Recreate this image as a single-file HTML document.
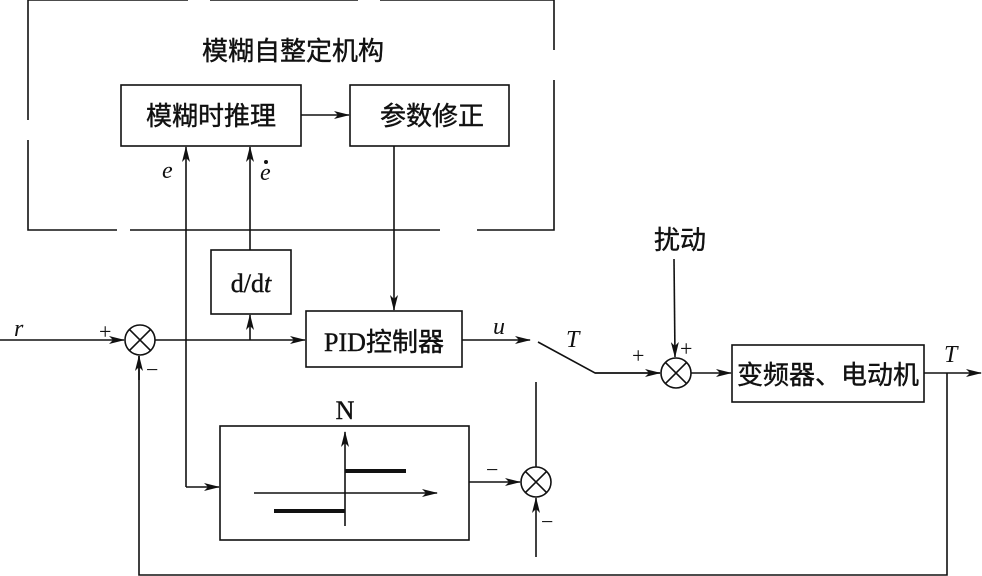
<!DOCTYPE html>
<html><head><meta charset="utf-8"><style>
html,body{margin:0;padding:0;background:#fff}
svg{display:block}
text{font-family:"Liberation Serif","Noto Sans CJK SC",serif;fill:#111}
</style></head><body>
<svg width="982" height="576" viewBox="0 0 982 576" xmlns="http://www.w3.org/2000/svg">
<defs>
<marker id="a" markerWidth="16" markerHeight="8" refX="15" refY="4" orient="auto" markerUnits="userSpaceOnUse">
<path d="M0,0 L16,4 L0,8 L4,4 Z" fill="#111"/></marker>
</defs>
<g stroke="#111" stroke-width="1.6" fill="none">
<path d="M28,0 V120 M28,140 V230 H117 M130,230 H440 M477,230 H554 V80 M554,50 V0"/>
<path d="M28,0 H188 M210,0 H358 M380,0 H554" />
<rect x="121" y="85" width="180" height="61"/>
<rect x="350" y="85" width="159" height="61"/>
<line x1="301" y1="115" x2="349" y2="115" marker-end="url(#a)"/>
<line x1="186" y1="487" x2="186" y2="147" marker-end="url(#a)"/>
<line x1="186" y1="487" x2="219" y2="487" marker-end="url(#a)"/>
<line x1="250" y1="250" x2="250" y2="147" marker-end="url(#a)"/>
<rect x="211" y="250" width="80" height="64"/>
<line x1="250" y1="340" x2="250" y2="315" marker-end="url(#a)"/>
<line x1="394" y1="146" x2="394" y2="310" marker-end="url(#a)"/>
<line x1="0" y1="340" x2="124" y2="340" marker-end="url(#a)"/>
<circle cx="140" cy="340" r="15"/>
<path d="M129.4,329.4 L150.6,350.6 M150.6,329.4 L129.4,350.6"/>
<line x1="155" y1="340" x2="305" y2="340" marker-end="url(#a)"/>
<rect x="306" y="311" width="156" height="56"/>
<line x1="462" y1="340" x2="530" y2="340" marker-end="url(#a)"/>
<path d="M538,342 L595,373 H660"/>
<line x1="595" y1="373" x2="660" y2="373" marker-end="url(#a)"/>
<line x1="674" y1="259" x2="675" y2="357" marker-end="url(#a)"/>
<circle cx="676" cy="373" r="15"/>
<path d="M665.4,362.4 L686.6,383.6 M686.6,362.4 L665.4,383.6"/>
<line x1="691" y1="373" x2="731" y2="373" marker-end="url(#a)"/>
<rect x="732" y="345" width="192" height="57"/>
<line x1="924" y1="373" x2="981" y2="373" marker-end="url(#a)"/>
<path d="M947,373 V575 H139 V356"/>
<line x1="139" y1="380" x2="139" y2="356" marker-end="url(#a)"/>
<rect x="220" y="426" width="249" height="114"/>
<line x1="345" y1="526" x2="345" y2="432" marker-end="url(#a)"/>
<line x1="254" y1="493" x2="437" y2="493" marker-end="url(#a)"/>
<line x1="469" y1="482" x2="520" y2="482" marker-end="url(#a)"/>
<circle cx="536" cy="482" r="15"/>
<path d="M525.4,471.4 L546.6,492.6 M546.6,471.4 L525.4,492.6"/>
<line x1="536" y1="382" x2="536" y2="467"/>
<line x1="536" y1="557" x2="536" y2="498" marker-end="url(#a)"/>
</g>
<g stroke="#111" stroke-width="4">
<line x1="345" y1="471" x2="406" y2="471"/>
<line x1="274" y1="511" x2="345" y2="511"/>
</g>
<g font-size="26" stroke="#111" stroke-width="0.4">
<text x="293" y="60" text-anchor="middle">模糊自整定机构</text>
<text x="211" y="125" text-anchor="middle">模糊时推理</text>
<text x="432" y="125" text-anchor="middle">参数修正</text>
<text x="384" y="351" text-anchor="middle">PID控制器</text>
<text x="828" y="384" text-anchor="middle">变频器、电动机</text>
<text x="680" y="249" text-anchor="middle">扰动</text>
<text x="251" y="292" text-anchor="middle">d/d<tspan font-style="italic">t</tspan></text>
<text x="345" y="419" text-anchor="middle">N</text>
</g>
<g font-size="24" font-style="italic">
<text x="162" y="178">e</text>
<text x="260" y="180">e</text>
<text x="14" y="336">r</text>
<text x="493" y="334">u</text>
<text x="566" y="347">T</text>
<text x="944" y="362">T</text>
</g>
<circle cx="266" cy="162" r="2" fill="#111"/>
<g font-size="22">
<text x="99" y="339">+</text>
<text x="146" y="377">−</text>
<text x="632" y="363">+</text>
<text x="680" y="356">+</text>
<text x="486" y="477">−</text>
<text x="541" y="529">−</text>
</g>
</svg>
</body></html>
